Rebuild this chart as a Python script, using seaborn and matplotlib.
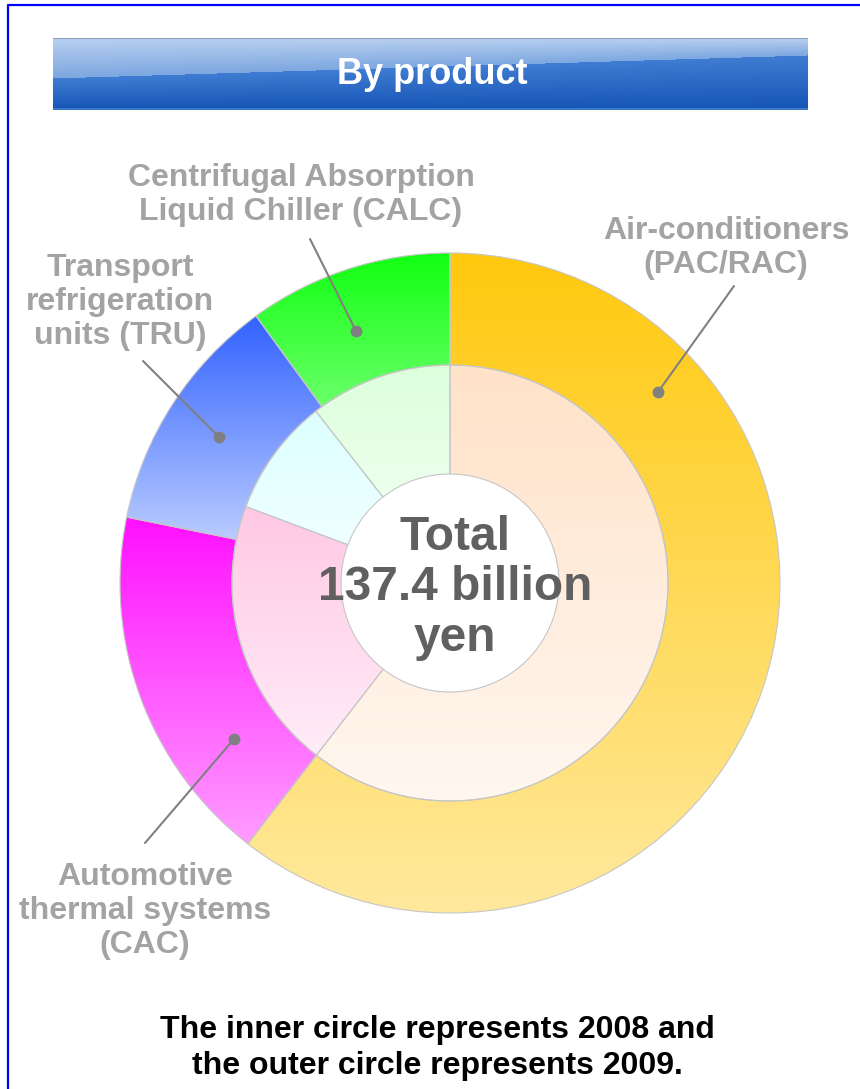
import numpy as np
import matplotlib
matplotlib.use("Agg")
import matplotlib.pyplot as plt
from matplotlib.colors import to_rgb
import seaborn as sns

# -------------------------------
# Data (shares in %, read off the rings, clockwise from 12 o'clock)
# -------------------------------
products = ["Air-conditioners\n(PAC/RAC)",
            "Automotive\nthermal systems\n(CAC)",
            "Transport\nrefrigeration\nunits (TRU)",
            "Centrifugal Absorption\nLiquid Chiller (CALC)"]
share_2009 = [60.5, 17.7, 11.8, 10.0]   # outer ring
share_2008 = [60.5, 20.2, 8.75, 10.55]  # inner ring
total_text = "Total\n137.4 billion\nyen"
title = "By product"
caption = "The inner circle represents 2008 and\nthe outer circle represents 2009."

# gradient colours (top -> bottom of each wedge)
outer_top = ["#ffc90e", "#ff10ff", "#3262ff", "#12ff12"]
outer_bottom = ["#ffe99e", "#ff9cff", "#d4e0ff", "#d0ffd0"]
inner_top = ["#ffe2c8", "#ffc8e4", "#dcffff", "#dcffdc"]
inner_bottom = ["#fff7f0", "#ffecf7", "#f6ffff", "#f8fff8"]

# -------------------------------
# Figure setup
# -------------------------------
sns.set_theme(style="white")
plt.rcParams["font.family"] = ["Liberation Sans", "DejaVu Sans"]

W, H = 860, 1089
fig = plt.figure(figsize=(W / 100, H / 100), dpi=100)
ax = fig.add_axes([0, 0, 1, 1])


def Y(py):
    # pixel row -> data y
    return H - py


cx, cy = 450, Y(583)
edge = dict(edgecolor="#c6c6c6", linewidth=0.8, facecolor="none")

outer, _ = ax.pie(share_2009, radius=330, center=(cx, cy), startangle=90,
                  counterclock=False, wedgeprops=dict(width=112, **edge))
inner, _ = ax.pie(share_2008, radius=218, center=(cx, cy), startangle=90,
                  counterclock=False, wedgeprops=dict(width=109, **edge))


def fill_gradient(wedge, top, bottom):
    v = wedge.get_path().vertices
    x0, y0 = v.min(axis=0)
    x1, y1 = v.max(axis=0)
    cols = np.array(sns.blend_palette([top, bottom], 256))[:, None, :]
    im = ax.imshow(cols, extent=(x0, x1, y0, y1), origin="upper",
                   aspect="auto", zorder=1, interpolation="bilinear")
    im.set_clip_path(wedge)
    wedge.set_zorder(3)


for w, t, b in zip(outer, outer_top, outer_bottom):
    fill_gradient(w, t, b)
for w, t, b in zip(inner, inner_top, inner_bottom):
    fill_gradient(w, t, b)

# -------------------------------
# Labels with leader lines
# -------------------------------
lab_color = "#a3a3a3"
lead_color = "#808080"
# (text x, text y, line start x, y, dot x, y) in pixels
layout = [
    (726, 248, 734, 286, 658, 392),
    (145, 911, 145, 843, 234, 739),
    (120, 302, 143, 361, 219, 437),
    (301, 195, 310, 239, 356, 331),
]
for name, (tx, ty, lx, ly, dx, dy) in zip(products, layout):
    ax.text(tx, Y(ty), name, ha="center", va="center", fontsize=23,
            fontweight="bold", color=lab_color, linespacing=1.16, zorder=5)
    ax.plot([lx, dx], [Y(ly), Y(dy)], color=lead_color, lw=1.5, zorder=5)
    ax.plot(dx, Y(dy), "o", color=lead_color, ms=7.5, zorder=6)

ax.text(455, Y(588), total_text, ha="center", va="center", fontsize=34.5,
        fontweight="bold", color="#606060", linespacing=1.17, zorder=5)

ax.text(437, Y(1048), caption, ha="center", va="center", fontsize=23,
        fontweight="bold", color="black", linespacing=1.26)

# -------------------------------
# Title banner (glossy blue bar)
# -------------------------------
bx0, bx1, by0, by1 = 53, 808, 38, 110
bw, bh = bx1 - bx0, by1 - by0
gx, gy = np.meshgrid(np.linspace(0, 1, bw), np.arange(bh))
split = (78 - by0) - (78 - 55) * gx
light_a, light_b = np.array(to_rgb("#b8cff0")), np.array(to_rgb("#7ca7e0"))
dark_a, dark_b = np.array(to_rgb("#3f7cd2")), np.array(to_rgb("#1454b5"))
t_light = np.clip(gy / split, 0, 1)[..., None]
t_dark = np.clip((gy - split) / (bh - split), 0, 1)[..., None]
img = np.where((gy < split)[..., None],
               light_a + (light_b - light_a) * t_light,
               dark_a + (dark_b - dark_a) * t_dark)
img[0] = to_rgb("#8d9db3")
img[-2:] = to_rgb("#3a78cc")
ax.imshow(img, extent=(bx0, bx1, Y(by1), Y(by0)), origin="upper",
          aspect="auto", zorder=1)
ax.text(432, Y(74), title, ha="center", va="center", fontsize=26,
        fontweight="bold", color="white", zorder=5)

# blue frame on the left and top
ax.plot([7.5, 7.5, W], [0, Y(4.5), Y(4.5)], color="#0000ff", lw=1.6,
        solid_capstyle="butt", clip_on=False)

ax.set_xlim(0, W)
ax.set_ylim(0, H)
ax.set_aspect("auto")
ax.axis("off")

fig.savefig("out.png", dpi=100, facecolor="white")
